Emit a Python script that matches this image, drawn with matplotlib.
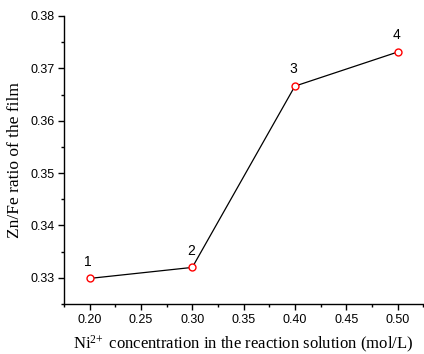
import matplotlib
matplotlib.use("Agg")
import matplotlib.pyplot as plt
from matplotlib.ticker import MultipleLocator

plt.rcParams["mathtext.fontset"] = "custom"
plt.rcParams["mathtext.rm"] = "Liberation Serif"
plt.rcParams["mathtext.it"] = "Liberation Serif:italic"

ni_conc = [0.20, 0.30, 0.40, 0.50]
zn_fe = [0.3299, 0.3320, 0.3666, 0.3731]
labels = ["1", "2", "3", "4"]

fig = plt.figure(figsize=(4.24, 3.54), dpi=100)
ax = fig.add_axes([0.151, 0.141, 0.847, 0.814])

ax.plot(ni_conc, zn_fe, color="black", lw=0.9, marker="o", ms=5,
        mfc="white", mec="red", mew=1.0)
for x, y, t in zip(ni_conc, zn_fe, labels):
    ax.annotate(t, (x, y), xytext=(-1, 7), textcoords="offset points",
                ha="center", va="bottom", fontsize=10, family="Liberation Sans")

ax.set_xlim(0.175, 0.525)
ax.set_ylim(0.325, 0.38)
ax.xaxis.set_major_locator(MultipleLocator(0.05))
ax.xaxis.set_minor_locator(MultipleLocator(0.025))
ax.yaxis.set_major_locator(MultipleLocator(0.01))
ax.yaxis.set_minor_locator(MultipleLocator(0.005))
ax.xaxis.set_major_formatter(plt.FormatStrFormatter("%.2f"))
ax.yaxis.set_major_formatter(plt.FormatStrFormatter("%.2f"))

for s in ["top", "right"]:
    ax.spines[s].set_visible(False)
for s in ["left", "bottom"]:
    ax.spines[s].set_linewidth(1.0)
ax.tick_params(which="major", direction="out", length=4, width=1.0,
               labelsize=9, pad=3)
ax.tick_params(which="minor", direction="out", length=2.5, width=1.0)
for lab in ax.get_xticklabels() + ax.get_yticklabels():
    lab.set_family("Liberation Sans")

ax.set_xlabel(r"Ni$^{2\!+}$ concentration in the reaction solution (mol/L)",
              family="Liberation Serif", fontsize=12, labelpad=6)
ax.set_ylabel("Zn/Fe ratio of the film", family="Liberation Serif",
              fontsize=12.5, labelpad=5)

fig.savefig("out.png", dpi=100)
